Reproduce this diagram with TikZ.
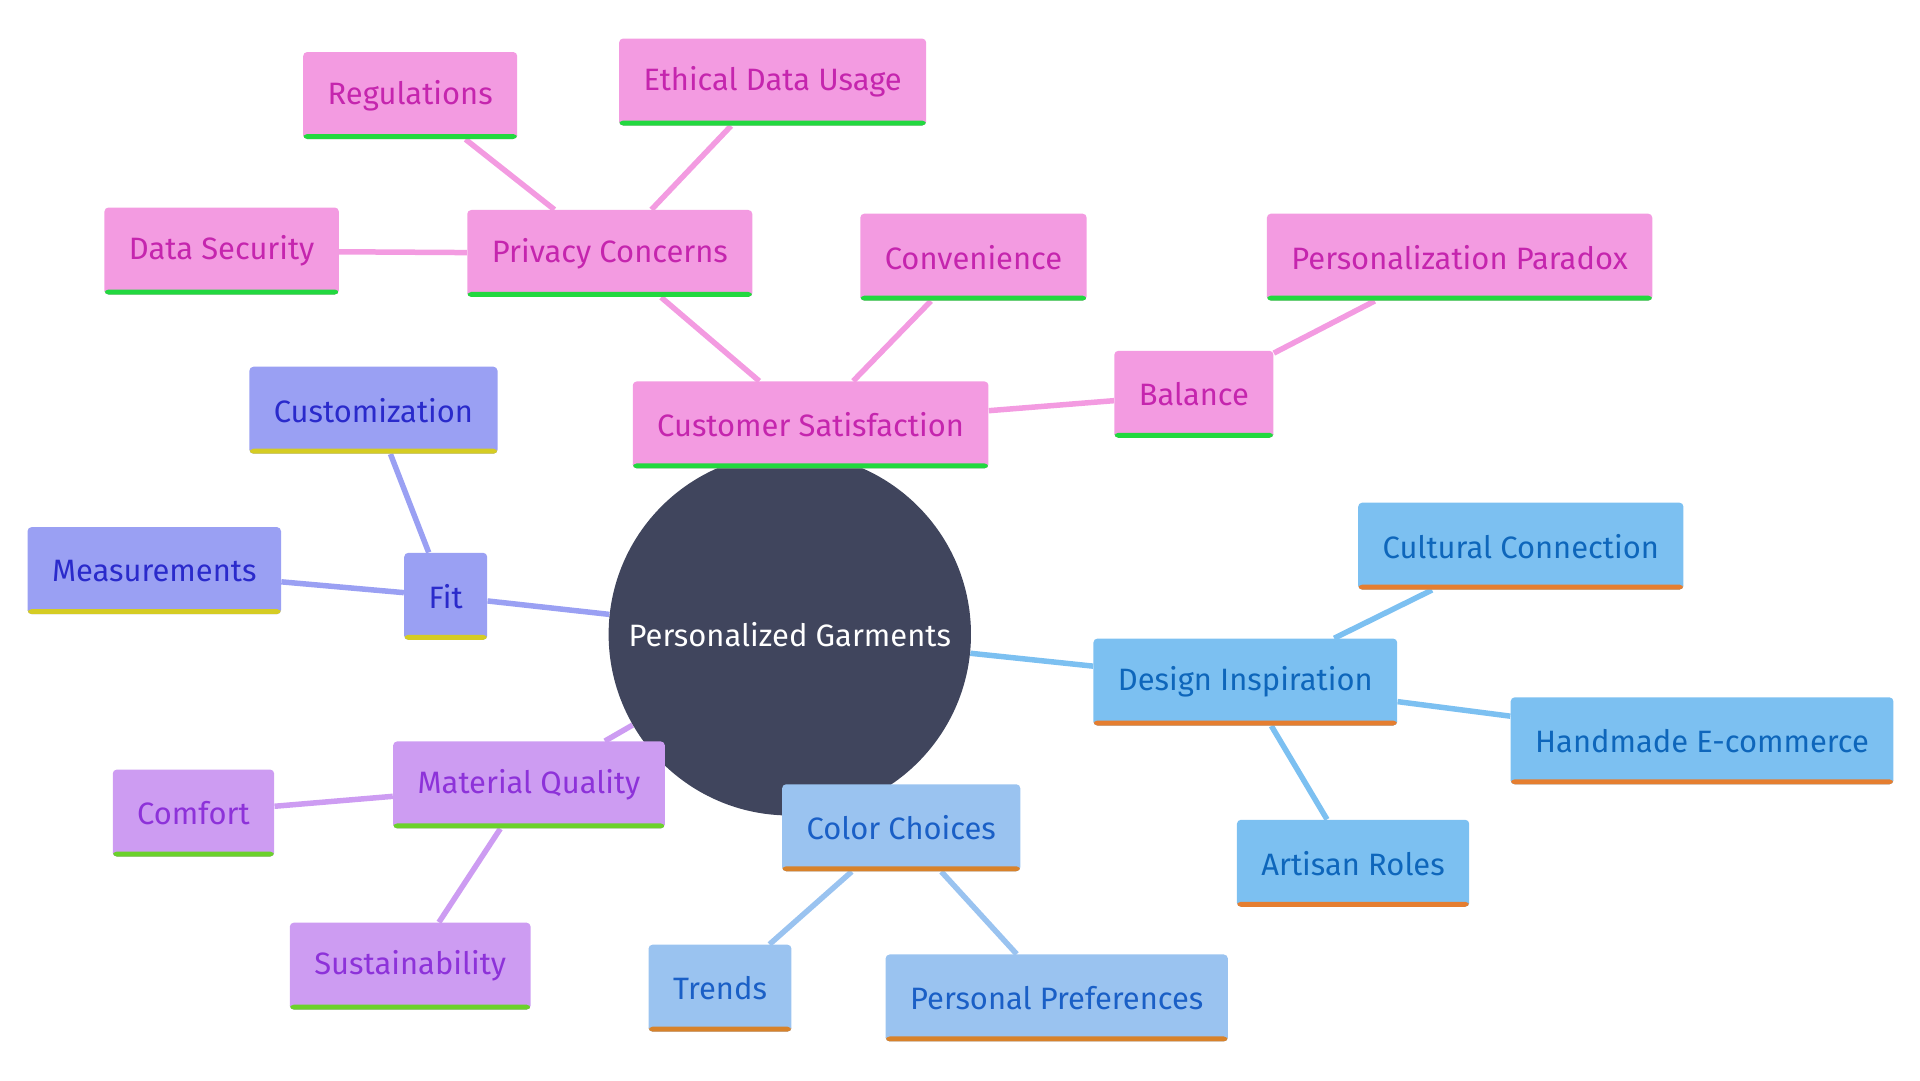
\documentclass[tikz,border=0pt]{standalone}
\usepackage{fontspec}
\setmainfont{Fira Sans}
\usepackage{tikz}
\usetikzlibrary{calc}
\usetikzlibrary{backgrounds}

\definecolor{rootfill}{HTML}{40455D}
\definecolor{pinkfill}{HTML}{F39BE1}
\definecolor{pinktext}{HTML}{C525AE}
\definecolor{pinkbar}{HTML}{22D83F}
\definecolor{fitfill}{HTML}{9AA0F3}
\definecolor{fittext}{HTML}{2A2ACB}
\definecolor{fitbar}{HTML}{D5CC23}
\definecolor{matfill}{HTML}{CD9CF2}
\definecolor{mattext}{HTML}{8D32D9}
\definecolor{matbar}{HTML}{6BD12B}
\definecolor{colfill}{HTML}{9AC3F0}
\definecolor{coltext}{HTML}{1A5FC6}
\definecolor{colbar}{HTML}{D8822A}
\definecolor{desfill}{HTML}{7CC0F1}
\definecolor{destext}{HTML}{0E66BB}
\definecolor{desbar}{HTML}{E57E30}

\tikzset{
  mmbox/.style={rectangle, rounded corners=0.8mm, minimum height=17.4mm, inner xsep=4.9mm,
    font=\fontsize{17.6}{20}\selectfont},
  underbar/.style={path picture={\fill[#1] (path picture bounding box.south west) rectangle
    ([yshift=1mm]path picture bounding box.south east);}},
  pinkbox/.style={mmbox, fill=pinkfill, text=pinktext, underbar=pinkbar},
  fitbox/.style={mmbox, fill=fitfill, text=fittext, underbar=fitbar},
  matbox/.style={mmbox, fill=matfill, text=mattext, underbar=matbar},
  colbox/.style={mmbox, fill=colfill, text=coltext, underbar=colbar},
  desbox/.style={mmbox, fill=desfill, text=destext, underbar=desbar},
  link/.style={line width=1.1mm},
}

\begin{document}
\begin{tikzpicture}[x=0.245mm, y=-0.245mm]
      \useasboundingbox (0,0) rectangle (1568,882);
      \node[circle, fill=rootfill, text=white, minimum size=72.5mm, inner sep=0pt,
        font=\fontsize{17.6}{20}\selectfont] (root) at (645,518) {Personalized Garments};

      % customer satisfaction branch
      \node[pinkbox] (cs) at (662,347) {Customer Satisfaction};
      \node[pinkbox] (pc) at (498,207) {Privacy Concerns};
      \node[pinkbox] (reg) at (335,78) {Regulations};
      \node[pinkbox] (edu) at (631,67) {Ethical Data Usage};
      \node[pinkbox] (dsec) at (181,205) {Data Security};
      \node[pinkbox] (conv) at (795,210) {Convenience};
      \node[pinkbox] (bal) at (975,322) {Balance};
      \node[pinkbox] (ppar) at (1192,210) {Personalization Paradox};

      \node[fitbox] (fit) at (364,487) {Fit};
      \node[fitbox] (cust) at (305,335) {Customization};
      \node[fitbox] (meas) at (126,466) {Measurements};

      \node[desbox] (di) at (1017,557) {Design Inspiration};
      \node[desbox] (cc) at (1242,446) {Cultural Connection};
      \node[desbox] (hec) at (1390,605) {Handmade E-commerce};
      \node[desbox] (ar) at (1105,705) {Artisan Roles};

      \node[matbox] (mq) at (432,641) {Material Quality};
      \node[matbox] (comf) at (158,664) {Comfort};
      \node[matbox] (sust) at (335,789) {Sustainability};

      \node[colbox] (col) at (736,676) {Color Choices};
      \node[colbox] (tr) at (588,807) {Trends};
      \node[colbox] (ppref) at (863,815) {Personal Preferences};

      \begin{scope}[on background layer]
        \draw[link, pinkfill] (root) -- (cs);
        \draw[link, pinkfill] (cs) -- (pc);
        \draw[link, pinkfill] (pc) -- (reg);
        \draw[link, pinkfill] (pc) -- (edu);
        \draw[link, pinkfill] (pc) -- (dsec);
        \draw[link, pinkfill] (cs) -- (conv);
        \draw[link, pinkfill] (cs) -- (bal);
        \draw[link, pinkfill] (bal) -- (ppar);
        \draw[link, fitfill] (root) -- (fit);
        \draw[link, fitfill] (fit) -- (cust);
        \draw[link, fitfill] (fit) -- (meas);
        \draw[link, desfill] (root) -- (di);
        \draw[link, desfill] (di) -- (cc);
        \draw[link, desfill] (di) -- (hec);
        \draw[link, desfill] (di) -- (ar);
        \draw[link, matfill] (root) -- (mq);
        \draw[link, matfill] (mq) -- (comf);
        \draw[link, matfill] (mq) -- (sust);
        \draw[link, colfill] (root) -- (col);
        \draw[link, colfill] (col) -- (tr);
        \draw[link, colfill] (col) -- (ppref);
      \end{scope}
    \end{tikzpicture}
\end{document}
